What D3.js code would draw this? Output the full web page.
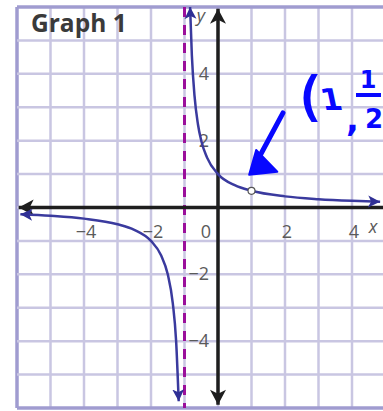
<!DOCTYPE html>
<html>
<head>
<meta charset="utf-8">
<script src="https://cdn.jsdelivr.net/npm/d3@7"></script>
<style>
  html, body { margin: 0; padding: 0; background: #fff; }
  svg { display: block; }
</style>
</head>
<body>
<svg id="chart" width="383" height="411"></svg>
<script>
// Graph 1: y = 1/(x + 1) with its vertical asymptote x = -1
const gridValues = [-6, -5, -4, -3, -2, -1, 0, 1, 2, 3, 4, 5, 6];
const xTickValues = [-4, -2, 2, 4];
const xTickLabels = ["\u22124", "\u22122", "2", "4"];
const yTickValues = [4, 2, -2, -4];
const yTickLabels = ["4", "2", "\u22122", "\u22124"];

// left branch (x < -1)
const leftX = [-5.9, -5, -4, -3, -2.5, -2, -1.7, -1.5, -1.35, -1.25, -1.173];
const leftY = [-0.204, -0.25, -0.333, -0.5, -0.667, -1, -1.43, -2, -2.86, -4, -5.8];
// right branch (x > -1)
const rightX = [-0.833, -0.78, -0.7, -0.6, -0.5, -0.33, 0, 0.5, 1, 2, 3, 4, 4.84];
const rightY = [6.0, 4.55, 3.33, 2.5, 2, 1.5, 1, 0.667, 0.5, 0.333, 0.25, 0.2, 0.172];

const asymptoteX = -1;
const holeX = 1, holeY = 0.5;
const titleText = "Graph 1";

const svg = d3.select("#chart");
const x = d3.scaleLinear().domain([-6, 6]).range([17, 419]);
const y = d3.scaleLinear().domain([-6, 6]).range([408, 7]);

// grid
const grid = svg.append("g");
grid.selectAll("line.v").data(gridValues).join("line")
  .attr("x1", d => x(d)).attr("x2", d => x(d))
  .attr("y1", y(6)).attr("y2", y(-6))
  .attr("stroke", d => d === -6 ? "#a09cd0" : "#c9c6e2")
  .attr("stroke-width", d => d === -6 ? 3.5 : 2.5);
grid.selectAll("line.h").data(gridValues).join("line")
  .attr("y1", d => y(d)).attr("y2", d => y(d))
  .attr("x1", x(-6)).attr("x2", x(6))
  .attr("stroke", d => Math.abs(d) === 6 ? "#a09cd0" : "#c9c6e2")
  .attr("stroke-width", d => Math.abs(d) === 6 ? 3.5 : 2.5);

// title
svg.append("text")
  .attr("x", 31).attr("y", 32)
  .attr("font-family", "'Open Sans', sans-serif")
  .attr("font-weight", 700).attr("font-size", 24.5)
  .attr("fill", "#3a3a3a")
  .text(titleText);

// markers
const defs = svg.append("defs");
defs.append("marker").attr("id", "axisHead")
  .attr("viewBox", "-16 -9 18 18").attr("refX", 0).attr("refY", 0)
  .attr("markerUnits", "userSpaceOnUse")
  .attr("markerWidth", 18).attr("markerHeight", 18)
  .attr("orient", "auto-start-reverse")
  .append("path").attr("d", "M0,0 L-15,-8 L-11,0 L-15,8 Z").attr("fill", "#1e1e1e");
defs.append("marker").attr("id", "curveHead")
  .attr("viewBox", "-12 -7 14 14").attr("refX", 0).attr("refY", 0)
  .attr("markerUnits", "userSpaceOnUse")
  .attr("markerWidth", 14).attr("markerHeight", 14)
  .attr("orient", "auto-start-reverse")
  .append("path").attr("d", "M0,0 L-12,-6 L-9,0 L-12,6 Z").attr("fill", "#2f2f95");

// tick labels
const labelFont = "'Open Sans', sans-serif";
svg.append("g").selectAll("text").data(xTickValues).join("text")
  .attr("x", d => x(d) + 2).attr("y", 238)
  .attr("text-anchor", "middle")
  .attr("font-family", labelFont).attr("font-size", 18)
  .attr("fill", "#5a5a5a")
  .text((d, i) => xTickLabels[i]);
svg.append("text")
  .attr("x", x(0) - 7).attr("y", 238)
  .attr("text-anchor", "end")
  .attr("font-family", labelFont).attr("font-size", 18)
  .attr("fill", "#5a5a5a").text("0");
svg.append("g").selectAll("text").data(yTickValues).join("text")
  .attr("x", x(0) - 9).attr("y", d => y(d) + 6)
  .attr("text-anchor", "end")
  .attr("font-family", labelFont).attr("font-size", 18)
  .attr("fill", "#5a5a5a")
  .text((d, i) => yTickLabels[i]);
svg.append("text")
  .attr("x", 373).attr("y", 233).attr("text-anchor", "middle")
  .attr("font-family", labelFont).attr("font-style", "italic").attr("font-size", 18)
  .attr("fill", "#5a5a5a").text("x");
svg.append("text")
  .attr("x", 201).attr("y", 22).attr("text-anchor", "middle")
  .attr("font-family", labelFont).attr("font-style", "italic").attr("font-size", 18)
  .attr("fill", "#5a5a5a").text("y");

// asymptote
svg.append("line")
  .attr("x1", x(asymptoteX)).attr("x2", x(asymptoteX))
  .attr("y1", y(6)).attr("y2", y(-6))
  .attr("stroke", "#9b0f9b").attr("stroke-width", 3)
  .attr("stroke-dasharray", "10,8");

// axes
svg.append("line")
  .attr("x1", x(-5.95)).attr("x2", x(5.5))
  .attr("y1", y(0)).attr("y2", y(0))
  .attr("stroke", "#1e1e1e").attr("stroke-width", 3.5)
  .attr("marker-start", "url(#axisHead)").attr("marker-end", "url(#axisHead)");
svg.append("line")
  .attr("x1", x(0)).attr("x2", x(0))
  .attr("y1", y(-5.9)).attr("y2", y(5.95))
  .attr("stroke", "#1e1e1e").attr("stroke-width", 3.5)
  .attr("marker-start", "url(#axisHead)").attr("marker-end", "url(#axisHead)");

// curve branches
const line = d3.line().x(d => x(d[0])).y(d => y(d[1])).curve(d3.curveMonotoneX);
[[leftX, leftY], [rightX, rightY]].forEach(([xs, ys]) => {
  svg.append("path")
    .datum(xs.map((v, i) => [v, ys[i]]))
    .attr("d", line)
    .attr("fill", "none").attr("stroke", "#3a3a9e").attr("stroke-width", 2.5)
    .attr("marker-start", "url(#curveHead)").attr("marker-end", "url(#curveHead)");
});

// hole at (1, 1/2)
svg.append("circle")
  .attr("cx", x(holeX)).attr("cy", y(holeY)).attr("r", 3.5)
  .attr("fill", "#fff").attr("stroke", "#555").attr("stroke-width", 1.2);

// handwritten note pointing to the hole
const ink = "#0808ff";
const note = svg.append("g").attr("fill", ink)
  .attr("font-family", "'DejaVu Sans', sans-serif").attr("font-weight", 700);
note.append("path")
  .attr("d", `M${x(1.94)},${y(2.83)} L${x(1.2)},${y(1.45)}`)
  .attr("stroke", ink).attr("stroke-width", 5).attr("stroke-linecap", "round");
note.append("path")
  .attr("d", `M${x(1.14)},${y(1.72)} L${x(0.93)},${y(0.98)} L${x(1.77)},${y(1.07)} Z`)
  .attr("stroke", ink).attr("stroke-width", 2).attr("stroke-linejoin", "round");
note.append("text").attr("x", 300).attr("y", 114).attr("font-size", 52)
  .attr("font-weight", 400).attr("stroke", ink).attr("stroke-width", 2).text("(");
note.append("text").attr("x", 332).attr("y", 110).attr("font-size", 30)
  .attr("text-anchor", "middle").attr("transform", "skewX(12) translate(-22,0)").text("1");
note.append("text").attr("x", 346).attr("y", 131).attr("font-size", 34).text(",");
note.append("text").attr("x", 368).attr("y", 88).attr("font-size", 24)
  .attr("text-anchor", "middle").text("1");
note.append("line").attr("x1", 356).attr("x2", 381).attr("y1", 95).attr("y2", 95)
  .attr("stroke", ink).attr("stroke-width", 4);
note.append("text").attr("x", 374).attr("y", 128).attr("font-size", 26)
  .attr("text-anchor", "middle").text("2");
</script>
</body>
</html>
